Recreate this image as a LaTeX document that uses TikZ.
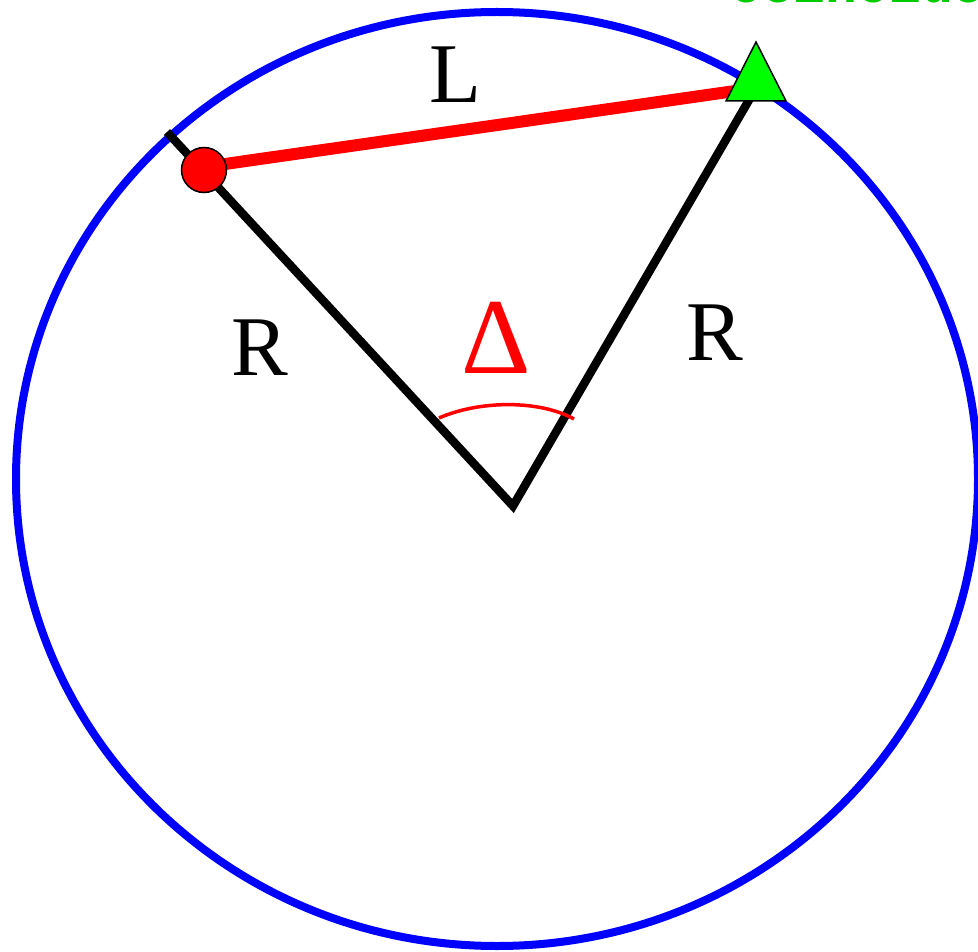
\documentclass[tikz,border=0pt]{standalone}
\usepackage{fontspec}
\setmainfont{Liberation Serif}
\newfontfamily\timesf{Liberation Serif}
\newfontfamily\monob{Liberation Mono}
\definecolor{myblue}{RGB}{0,0,255}
\definecolor{myred}{RGB}{255,0,0}
\definecolor{mygreen}{RGB}{0,255,0}
\definecolor{txtgreen}{RGB}{0,204,0}
\begin{document}
\begin{tikzpicture}[x=1pt,y=-1pt,
  radius/.style={draw=black,line width=8.5pt,line join=miter},
  chord/.style={draw=myred,line width=12pt},
  lbl/.style={inner sep=0pt,anchor=base west,font=\timesf\fontsize{85}{100}\selectfont},
  dot/.style={circle,fill=myred,draw=black,line width=1.5pt,minimum size=45pt,inner sep=0pt}]
\useasboundingbox (0,0) rectangle (978,952);
\fill[white] (0,0) rectangle (978,952);
% circle
\draw[myblue,line width=8pt] (497,479) ellipse [x radius=481, y radius=467];
% radii
\coordinate (V) at (513,506);
\coordinate (E) at (167,132);
\coordinate (T) at (756,88);
\draw[radius] (E) -- (V) -- (T);
% chord
\coordinate (Pc) at (204,167);
\draw[chord] (Pc) -- (T);
% angle arc
\coordinate (A1) at (439,418);
\coordinate (A2) at (574,419);
\draw[myred,line width=3.5pt] (A1) .. controls (480,400) and (540,400) .. (A2);
% markers
\node[dot] (P) at (204,170) {};
\draw[fill=mygreen,draw=black,line width=1.5pt,line join=miter] (726,101) -- (756,42) -- (786,101) -- cycle;
% labels
\node[lbl] (L) at (429,103) {L};
\node[lbl] (R1) at (231,375) {R};
\node[lbl] (R2) at (686,360) {R};
\node[inner sep=0pt,anchor=base west,text=myred,font=\timesf\fontsize{108}{120}\selectfont] (D) at (461,373) {Δ};
\node[inner sep=0pt,anchor=base west,text=txtgreen,font=\monob\bfseries\fontsize{53}{60}\selectfont] (C) at (730,3) {coincide};
\end{tikzpicture}
\end{document}
